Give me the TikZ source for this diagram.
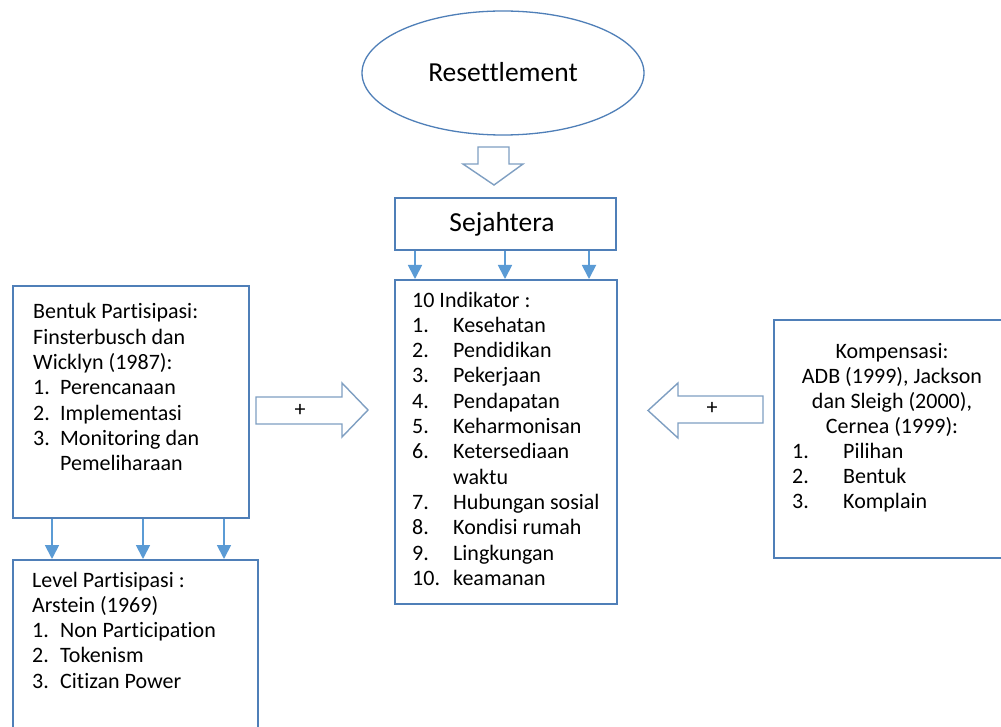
\documentclass[tikz,border=0pt]{standalone}
\usepackage{fontspec}
\setmainfont[Ligatures=NoCommon]{Carlito}
\usetikzlibrary{arrows.meta,shapes.geometric}

\definecolor{boxline}{HTML}{4F7FB8}
\definecolor{tipblue}{HTML}{5B9BD5}
\definecolor{blockline}{HTML}{7F9FC2}

% numbered entry with a fixed-width number column
\newcommand{\numitem}[3]{\makebox[#1][l]{#2}#3}

\tikzset{
  panel/.style={draw=boxline, line width=1.6pt, rectangle, inner sep=0pt, anchor=north west},
  oval/.style={draw=boxline, line width=1.3pt, ellipse, inner sep=0pt},
  tipline/.style={draw=tipblue, line width=1.8pt, -{Triangle[width=14pt,length=14pt]}},
  blockarrow/.style={draw=blockline, line width=1.4pt, fill=white, line join=miter},
  bodytext/.style={inner sep=0pt, font=\fontsize{22}{25.3}\selectfont},
  titletext/.style={inner sep=0pt, font=\fontsize{27.5}{32}\selectfont, anchor=base},
}

\begin{document}
\begin{tikzpicture}[x=1pt,y=-1pt]
\useasboundingbox (0,0) rectangle (1001,727);
\fill[white] (0,0) rectangle (1001,727);

% top ellipse
\node[oval, minimum width=282pt, minimum height=124pt] (res) at (503,73) {};
\node[titletext] (restxt) at (503,82) {Resettlement};

% hollow arrow pointing down to the welfare box
\draw[blockarrow] (478,147) -- (509,147) -- (509,164) -- (523,164) -- (494,185)
  -- (463,164) -- (478,164) -- cycle;

% welfare box
\node[panel, minimum width=221pt, minimum height=52pt] (sej) at (394,197) {};
\node[titletext] (sejtxt) at (502,232) {Sejahtera};

% indicator box
\node[panel, minimum width=222pt, minimum height=324pt] (ind) at (394,279) {};
\node[bodytext, anchor=base west] (indtxt) at (412,307) {%
  \begin{tabular}[t]{@{}l@{}}
  10 Indikator :\\
  \numitem{41pt}{1.}{Kesehatan}\\
  \numitem{41pt}{2.}{Pendidikan}\\
  \numitem{41pt}{3.}{Pekerjaan}\\
  \numitem{41pt}{4.}{Pendapatan}\\
  \numitem{41pt}{5.}{Keharmonisan}\\
  \numitem{41pt}{6.}{Ketersediaan}\\
  \numitem{41pt}{}{waktu}\\
  \numitem{41pt}{7.}{Hubungan sosial}\\
  \numitem{41pt}{8.}{Kondisi rumah}\\
  \numitem{41pt}{9.}{Lingkungan}\\
  \numitem{41pt}{10.}{keamanan}
  \end{tabular}};

% participation form box
\node[panel, minimum width=236pt, minimum height=232pt] (bp) at (12,285) {};
\node[bodytext, anchor=base west] (bptxt) at (33,319) {%
  \begin{tabular}[t]{@{}l@{}}
  Bentuk Partisipasi:\\
  Finsterbusch dan\\
  Wicklyn (1987):\\
  \numitem{27pt}{1.}{Perencanaan}\\
  \numitem{27pt}{2.}{Implementasi}\\
  \numitem{27pt}{3.}{Monitoring dan}\\
  \numitem{27pt}{}{Pemeliharaan}
  \end{tabular}};

% participation level box
\node[panel, minimum width=245pt, minimum height=190pt] (lv) at (12,559) {};
\node[bodytext, anchor=base west] (lvtxt) at (32,587) {%
  \begin{tabular}[t]{@{}l@{}}
  Level Partisipasi :\\
  Arstein (1969)\\
  \numitem{28pt}{1.}{Non Participation}\\
  \numitem{28pt}{2.}{Tokenism}\\
  \numitem{28pt}{3.}{Citizan Power}
  \end{tabular}};

% compensation box
\node[panel, minimum width=240pt, minimum height=238pt] (kp) at (773,319) {};
\node[bodytext, anchor=base] (kptxt) at (892,358) {%
  \begin{tabular}[t]{@{}c@{}}
  Kompensasi:\\
  ADB (1999), Jackson\\
  dan Sleigh (2000),\\
  Cernea (1999):
  \end{tabular}};
\node[bodytext, anchor=base west] (kplist) at (792,458) {%
  \begin{tabular}[t]{@{}l@{}}
  \numitem{51pt}{1.}{Pilihan}\\
  \numitem{51pt}{2.}{Bentuk}\\
  \numitem{51pt}{3.}{Komplain}
  \end{tabular}};

% hollow arrows with plus signs into the indicator box
\draw[blockarrow] (256,397) -- (342,397) -- (342,383) -- (368,410) -- (342,437)
  -- (342,424) -- (256,424) -- cycle;
\node[bodytext] (plusl) at (300,410) {+};
\draw[blockarrow] (763,396) -- (678,396) -- (678,383) -- (648,410.5) -- (678,438)
  -- (678,423) -- (763,423) -- cycle;
\node[bodytext] (plusr) at (712,408) {+};

% small arrows from the welfare box
\draw[tipline] ([xshift=21pt]sej.south west) -- ([xshift=21pt]sej.south west |- ind.north);
\draw[tipline] ([xshift=111pt]sej.south west) -- ([xshift=111pt]sej.south west |- ind.north);
\draw[tipline] ([xshift=195pt]sej.south west) -- ([xshift=195pt]sej.south west |- ind.north);

% small arrows from participation form to level
\draw[tipline] ([xshift=40pt]bp.south west) -- ([xshift=40pt]bp.south west |- lv.north);
\draw[tipline] ([xshift=131pt]bp.south west) -- ([xshift=131pt]bp.south west |- lv.north);
\draw[tipline] ([xshift=212pt]bp.south west) -- ([xshift=212pt]bp.south west |- lv.north);
\end{tikzpicture}
\end{document}
